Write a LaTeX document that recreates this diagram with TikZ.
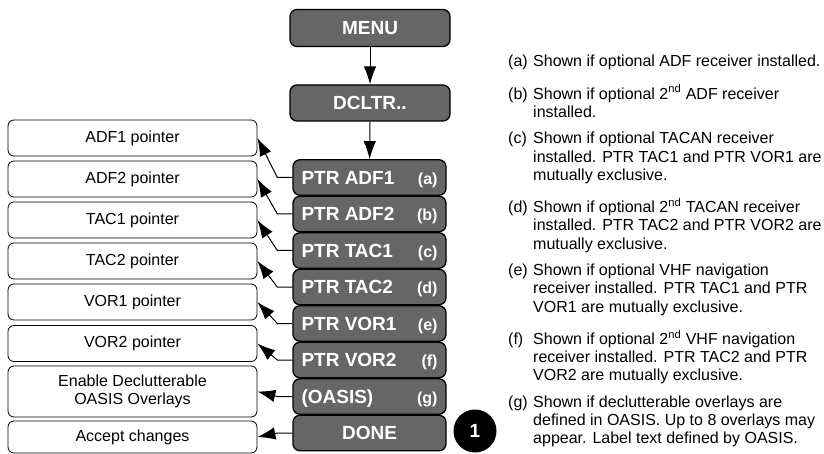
\documentclass[tikz,border=0pt]{standalone}
\usepackage{fontspec}
\setmainfont{Liberation Sans}
\usepackage{xcolor}
\usepackage{tikz}
\usetikzlibrary{arrows.meta}

\newcommand{\keytext}[2]{\makebox[136pt]{#1\hfill{\fontsize{16}{16}\selectfont #2}}}
\newcommand{\tabin}{\\\hspace*{25pt}}
\newcommand{\notelabel}[1]{\makebox[25pt][l]{#1}}

\begin{document}
\begin{tikzpicture}[x=1pt,y=-1pt,
menukey/.style={draw=black,line width=1.3pt,fill=black!60,rounded corners=7pt,text=white,
  font=\fontsize{19}{19}\selectfont\bfseries,minimum width=153pt,minimum height=35.5pt,
  inner sep=0pt,text height=13.7pt,text depth=0pt},
result/.style={draw=black,line width=0.8pt,fill=white,rounded corners=6pt,
  font=\fontsize{16}{18}\selectfont,minimum width=249pt,minimum height=36pt,inner sep=0pt,align=center},
link/.style={-{Latex[length=18pt,width=12.5pt]},line width=1pt},
note/.style={anchor=north west,inner sep=0pt,align=left,font=\fontsize{16}{18.2}\selectfont},
marker/.style={circle,fill=black,text=white,font=\fontsize{19}{19}\selectfont\bfseries,
  minimum size=43pt,inner sep=0pt}
]
\useasboundingbox (0,0) rectangle (824,454);

% menu keys
\node[menukey,minimum width=160pt,minimum height=37pt] (menu) at (370,28) {MENU};
\node[menukey,minimum width=160pt,minimum height=36pt] (dcltr) at (370,103) {DCLTR..};
\node[menukey] (ptradf1) at (369.5,177.5) {\keytext{PTR ADF1}{(a)}};
\node[menukey] (ptradf2) at (369.5,214) {\keytext{PTR ADF2}{(b)}};
\node[menukey] (ptrtac1) at (369.5,250.5) {\keytext{PTR TAC1}{(c)}};
\node[menukey] (ptrtac2) at (369.5,287) {\keytext{PTR TAC2}{(d)}};
\node[menukey] (ptrvor1) at (369.5,323.5) {\keytext{PTR VOR1}{(e)}};
\node[menukey] (ptrvor2) at (369.5,360) {\keytext{PTR VOR2}{(f)}};
\node[menukey] (oasis) at (369.5,396.5) {\keytext{(OASIS)}{(g)}};
\node[menukey] (done) at (369.5,433) {DONE};
\node[marker] (one) at (475,431) {1};

% what each key does
\node[result] (adf1) at (132.5,138) {ADF1 pointer};
\node[result] (adf2) at (132.5,179) {ADF2 pointer};
\node[result] (tac1) at (132.5,220) {TAC1 pointer};
\node[result] (tac2) at (132.5,261) {TAC2 pointer};
\node[result] (vor1) at (132.5,302) {VOR1 pointer};
\node[result] (vor2) at (132.5,343.5) {VOR2 pointer};
\node[result,minimum height=51pt] (overlays) at (132.5,391.5) {Enable Declutterable\\OASIS Overlays};
\node[result,minimum height=32pt] (accept) at (132.5,437) {Accept changes};

\draw[link] (menu) -- (dcltr);
\draw[link] (dcltr) -- (ptradf1);
\draw[link] (ptradf1.west) -- ++(-15,0) -- (adf1.east);
\draw[link] (ptradf2.west) -- ++(-15,0) -- (adf2.east);
\draw[link] (ptrtac1.west) -- ++(-15,0) -- (tac1.east);
\draw[link] (ptrtac2.west) -- ++(-15,0) -- (tac2.east);
\draw[link] (ptrvor1.west) -- ++(-15,0) -- (vor1.east);
\draw[link] (ptrvor2.west) -- ++(-15,0) -- (vor2.east);
\draw[link] (oasis.west) -- ++(-15,0) -- (overlays.east);
\draw[link] (done.west) -- ++(-15,0) -- (accept.east);

% notes
\node[note] (nota) at (508,55) {\notelabel{(a)}Shown if optional ADF receiver installed.};
\node[note] (notb) at (508,84.5) {\notelabel{(b)}Shown if optional 2\textsuperscript{nd} ADF receiver\tabin installed.};
\node[note] (notc) at (508,132.2) {\notelabel{(c)}Shown if optional TACAN receiver\tabin installed. PTR TAC1 and PTR VOR1 are\tabin mutually exclusive.};
\node[note] (notd) at (508,198.1) {\notelabel{(d)}Shown if optional 2\textsuperscript{nd} TACAN receiver\tabin installed. PTR TAC2 and PTR VOR2 are\tabin mutually exclusive.};
\node[note] (note) at (508,264) {\notelabel{(e)}Shown if optional VHF navigation\tabin receiver installed. PTR TAC1 and PTR\tabin VOR1 are mutually exclusive.};
\node[note] (notf) at (508,330) {\notelabel{(f)}Shown if optional 2\textsuperscript{nd} VHF navigation\tabin receiver installed. PTR TAC2 and PTR\tabin VOR2 are mutually exclusive.};
\node[note] (notg) at (508,395.8) {\notelabel{(g)}Shown if declutterable overlays are\tabin defined in OASIS. Up to 8 overlays may\tabin appear. Label text defined by OASIS.};
\end{tikzpicture}
\end{document}
